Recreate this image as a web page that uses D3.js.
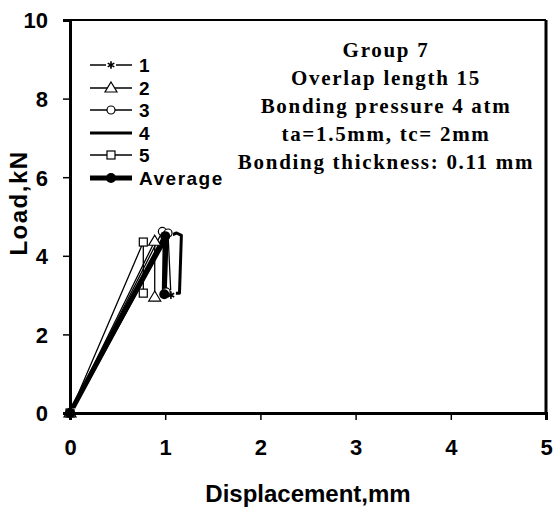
<!DOCTYPE html>
<html>
<head>
<meta charset="utf-8">
<script src="https://cdn.jsdelivr.net/npm/d3@7"></script>
<style>
  body { margin: 0; background: #fff; }
  svg { display: block; }
  .tick text { font-family: "Liberation Sans", Arial, sans-serif; font-weight: bold; font-size: 22px; fill: #000; }
</style>
</head>
<body>
<svg id="chart" width="554" height="507"></svg>
<script>
// --- Data ---

const xTicks = [0, 1, 2, 3, 4, 5];
const yTicks = [0, 2, 4, 6, 8, 10];

const series1 = [[0, 0], [1.03, 4.55], [1.06, 3.0]];
const series2 = [[0, 0], [0.89, 4.37], [0.89, 2.95]];
const series3 = [[0, 0], [0.97, 4.62], [1.03, 4.58], [1.01, 3.08]];
const series4 = [[0, 0], [1.02, 4.48], [1.12, 4.58], [1.17, 4.52], [1.15, 3.05], [1.08, 3.05]];
const series5 = [[0, 0], [0.77, 4.35], [0.77, 3.05]];
const average = [[0, 0], [1.0, 4.5], [0.99, 3.02]];

const legendLabels = ["1", "2", "3", "4", "5", "Average"];

const noteLines = [
  "Group 7",
  "Overlap length 15",
  "Bonding pressure 4 atm",
  "ta=1.5mm, tc= 2mm",
  "Bonding thickness: 0.11 mm",
];

// --- Styles per series ---

const SERIES = [
  { data: series1, width: 1.3, marker: "asterisk" },
  { data: series2, width: 1.3, marker: "triangle" },
  { data: series3, width: 1.3, marker: "circle" },
  { data: series4, width: 3, marker: null },
  { data: series5, width: 1.3, marker: "square" },
  { data: average, width: 5, marker: "dot" },
];

// --- Layout ---

const svg = d3.select("#chart");
const x = d3.scaleLinear().domain([0, 5]).range([70, 546]);
const y = d3.scaleLinear().domain([0, 10]).range([413, 20]);

// plot border (top / right)
svg.append("line").attr("x1", 70).attr("x2", 546).attr("y1", 20).attr("y2", 20)
  .attr("stroke", "#000").attr("stroke-width", 2);
svg.append("line").attr("x1", 546).attr("x2", 546).attr("y1", 20).attr("y2", 413)
  .attr("stroke", "#000").attr("stroke-width", 3);

// axes
const xAxis = svg.append("g")
  .attr("transform", "translate(0,413)")
  .call(d3.axisBottom(x).tickValues(xTicks).tickFormat(d3.format("d")).tickSize(7).tickPadding(19));
xAxis.select(".domain").attr("stroke-width", 3);
xAxis.selectAll(".tick line").attr("stroke-width", 1.5);

const yAxis = svg.append("g")
  .attr("transform", "translate(70,0)")
  .call(d3.axisLeft(y).tickValues(yTicks).tickFormat(d3.format("d")).tickSize(7).tickPadding(15));
yAxis.select(".domain").attr("stroke-width", 3);
yAxis.selectAll(".tick line").attr("stroke-width", 1.5);
yAxis.selectAll(".tick text").attr("dy", "0.36em");

// axis titles
svg.append("text")
  .attr("x", 308).attr("y", 502)
  .attr("text-anchor", "middle")
  .attr("font-family", "Liberation Sans, Arial, sans-serif")
  .attr("font-weight", "bold").attr("font-size", 24)
  .text("Displacement,mm");

svg.append("text")
  .attr("transform", "translate(27,203) rotate(-90)")
  .attr("text-anchor", "middle")
  .attr("font-family", "Liberation Sans, Arial, sans-serif")
  .attr("font-weight", "bold").attr("font-size", 24)
  .attr("letter-spacing", 1.5)
  .text("Load,kN");

// --- Markers ---

function drawMarker(g, type, cx, cy) {
  if (type === "circle") {
    g.append("circle").attr("cx", cx).attr("cy", cy).attr("r", 4)
      .attr("fill", "#fff").attr("stroke", "#000").attr("stroke-width", 1.2);
  } else if (type === "dot") {
    g.append("circle").attr("cx", cx).attr("cy", cy).attr("r", 5).attr("fill", "#000");
  } else if (type === "square") {
    g.append("rect").attr("x", cx - 4).attr("y", cy - 4).attr("width", 8).attr("height", 8)
      .attr("fill", "#fff").attr("stroke", "#000").attr("stroke-width", 1.2);
  } else if (type === "triangle") {
    g.append("path").attr("d", `M${cx},${cy - 6}L${cx + 6},${cy + 4}L${cx - 6},${cy + 4}Z`)
      .attr("fill", "#fff").attr("stroke", "#000").attr("stroke-width", 1.2);
  } else if (type === "asterisk") {
    g.append("rect").attr("x", cx - 5).attr("y", cy - 5).attr("width", 10).attr("height", 10).attr("fill", "#fff");
    g.append("path").attr("transform", `translate(${cx},${cy})`)
      .attr("d", d3.symbol(d3.symbolAsterisk, 40)())
      .attr("fill", "none").attr("stroke", "#000").attr("stroke-width", 1.6);
  }
}

// --- Series ---

const line = d3.line().x((d) => x(d[0])).y((d) => y(d[1]));
const plot = svg.append("g");

for (const s of SERIES) {
  plot.append("path")
    .datum(s.data)
    .attr("d", line)
    .attr("fill", "none")
    .attr("stroke", "#000")
    .attr("stroke-width", s.width)
    .attr("stroke-linejoin", "round");
}
for (const s of SERIES) {
  if (!s.marker) continue;
  for (const d of s.data) drawMarker(plot, s.marker, x(d[0]), y(d[1]));
}

// --- Legend ---

const legend = svg.append("g");
const legendY = [65, 88, 110, 133, 155, 178];
SERIES.forEach((s, i) => {
  const ly = legendY[i];
  legend.append("line").attr("x1", 90).attr("x2", 132).attr("y1", ly).attr("y2", ly)
    .attr("stroke", "#000").attr("stroke-width", s.width);
  if (s.marker) drawMarker(legend, s.marker, 111, ly);
  legend.append("text")
    .attr("x", 139).attr("y", ly).attr("dy", "0.36em")
    .attr("font-family", "Liberation Sans, Arial, sans-serif")
    .attr("font-weight", "bold").attr("font-size", 19)
    .attr("letter-spacing", 1.5)
    .text(legendLabels[i]);
});

// --- Annotation ---

const note = svg.append("g");
noteLines.forEach((t, i) => {
  note.append("text")
    .attr("x", 386).attr("y", 57 + i * 28)
    .attr("text-anchor", "middle")
    .attr("font-family", "Liberation Serif, Times New Roman, serif")
    .attr("font-weight", "bold").attr("font-size", 21)
    .attr("letter-spacing", 1.7)
    .text(t);
});
</script>
</body>
</html>
